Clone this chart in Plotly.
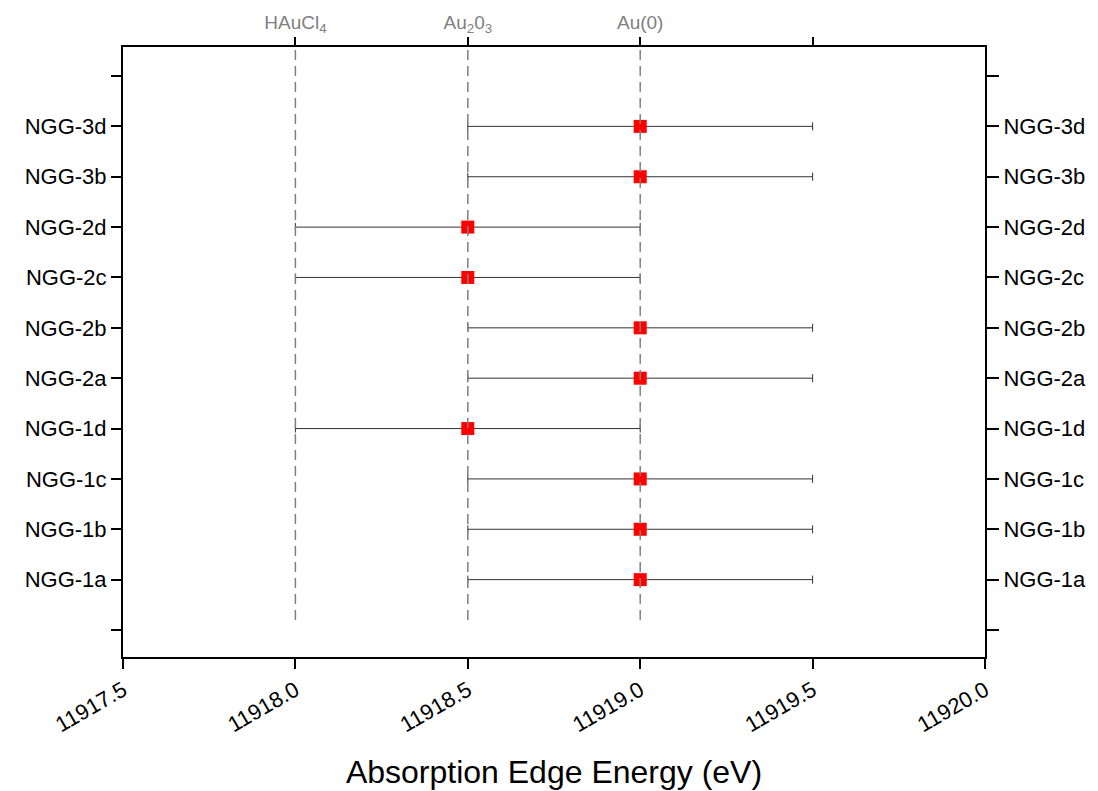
import plotly.graph_objects as go

# Samples (bottom to top) and their absorption edge energies
samples = ["NGG-1a", "NGG-1b", "NGG-1c", "NGG-1d", "NGG-2a",
           "NGG-2b", "NGG-2c", "NGG-2d", "NGG-3b", "NGG-3d"]
edge_energy = [11919.0, 11919.0, 11919.0, 11918.5, 11919.0,
               11919.0, 11918.5, 11918.5, 11919.0, 11919.0]
edge_error = [0.5, 0.5, 0.5, 0.5, 0.5, 0.5, 0.5, 0.5, 0.5, 0.5]

# Reference compounds marked along the top axis
ref_names = ["HAuCl<sub>4</sub>", "Au<sub>2</sub>0<sub>3</sub>", "Au(0)"]
ref_energy = [11918.0, 11918.5, 11919.0]

x_ticks = [11917.5, 11918.0, 11918.5, 11919.0, 11919.5, 11920.0]
x_range = [11917.5, 11920.0]

y_pos = list(range(1, len(samples) + 1))
y_ticks = list(range(0, len(samples) + 2))
y_labels = [""] + samples + [""]
y_range = [-0.536, 11.576]

FONT = "Liberation Sans, Arial, sans-serif"

fig = go.Figure()

fig.add_trace(go.Scatter(
    x=edge_energy, y=y_pos, mode="markers",
    marker=dict(symbol="square", size=13, color="#ff0000", line=dict(width=0)),
    error_x=dict(type="data", array=edge_error, visible=True,
                 color="#333333", thickness=1, width=4),
    showlegend=False, hoverinfo="x+y",
))

# Dashed guide lines at each reference energy
for e in ref_energy:
    fig.add_trace(go.Scatter(
        x=[e, e], y=[0.2, y_range[1]], mode="lines",
        line=dict(color="#808080", width=1.5, dash="10px,6px"),
        xaxis="x2", yaxis="y2", showlegend=False, hoverinfo="skip",
    ))

axis_common = dict(showline=True, linecolor="black", linewidth=2,
                   ticks="outside", tickwidth=2, tickcolor="black",
                   showgrid=False, zeroline=False, automargin=False)

fig.update_layout(
    width=1098, height=791,
    margin=dict(l=123, r=113, t=47, b=134),
    paper_bgcolor="white", plot_bgcolor="white",
    font=dict(family=FONT, color="black"),
    xaxis=dict(range=x_range, tickvals=x_ticks,
               ticktext=[f"{v:.1f}" for v in x_ticks],
               tickangle=-30, tickfont=dict(size=22), ticklen=10,
               title=dict(text="Absorption Edge Energy (eV)",
                          font=dict(size=32), standoff=24),
               **axis_common),
    xaxis2=dict(range=x_range, overlaying="x", side="top", anchor="y2",
                tickvals=[11918.0, 11918.5, 11919.0, 11919.5],
                ticktext=ref_names + [""],
                tickfont=dict(size=19, color="#808080"),
                ticklen=8, **axis_common),
    yaxis=dict(range=y_range, tickvals=y_ticks, ticktext=y_labels,
               tickfont=dict(size=22), ticklen=10, **axis_common),
    yaxis2=dict(range=y_range, overlaying="y", side="right", anchor="x2",
                tickvals=y_ticks, ticktext=y_labels,
                tickfont=dict(size=22), ticklen=12, **axis_common),
)

fig.write_html("out.html")
